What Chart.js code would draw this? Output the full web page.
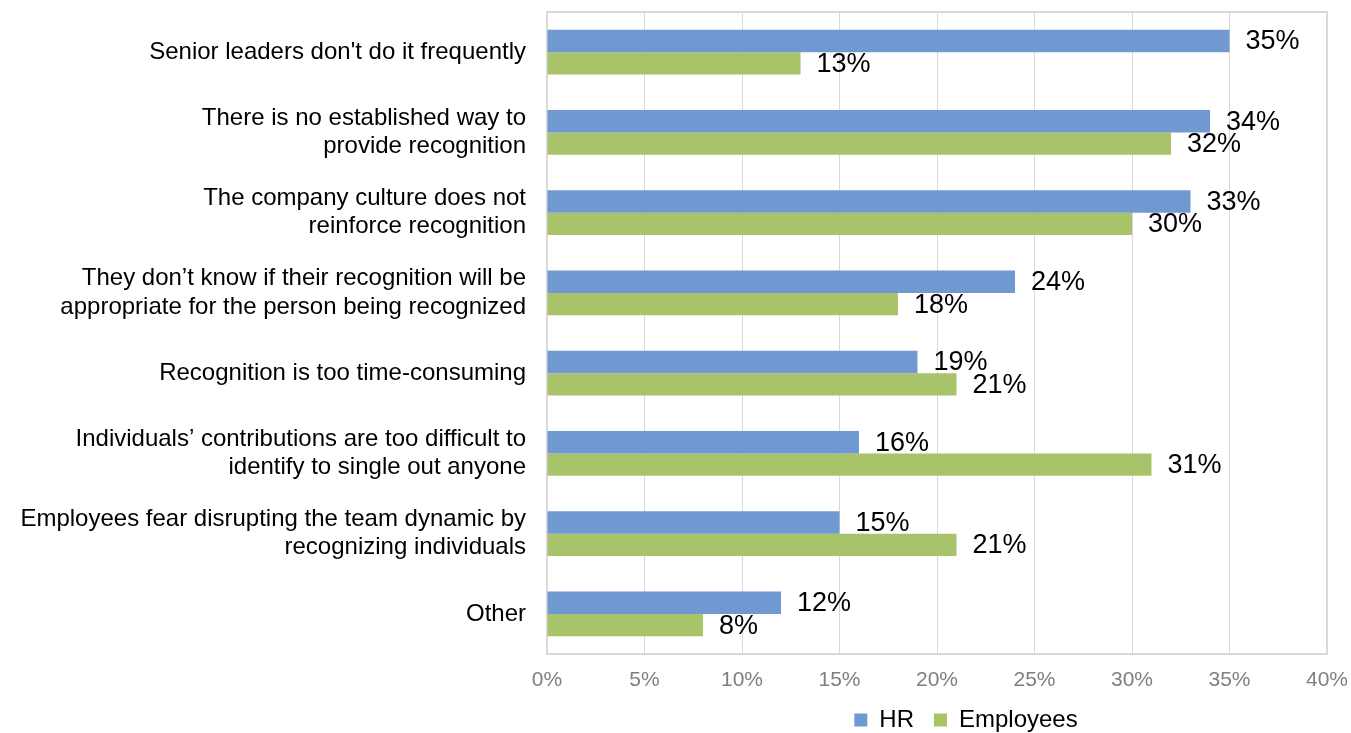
<!DOCTYPE html>
<html>
<head>
  <title>Recognition barriers</title>
  <script src="https://cdn.jsdelivr.net/npm/chart.js"></script>
  <style>
    body {
      margin: 0;
      background: #ffffff;
    }
    .wrap {
      width: 1351px;
      height: 733px;
    }
  </style>
</head>
<body>
  <div class="wrap">
    <canvas id="chart" width="1351" height="733"></canvas>
  </div>
  <script>
const categories = [
  "Senior leaders don't do it frequently",
  ['There is no established way to', 'provide recognition'],
  ['The company culture does not', 'reinforce recognition'],
  ['They don\u2019t know if their recognition will be', 'appropriate for the person being recognized'],
  'Recognition is too time-consuming',
  ['Individuals\u2019 contributions are too difficult to', 'identify to single out anyone'],
  ['Employees fear disrupting the team dynamic by', 'recognizing individuals'],
  'Other'
];
const hrValues = [35, 34, 33, 24, 19, 16, 15, 12];
const employeeValues = [13, 32, 30, 18, 21, 31, 21, 8];
const xTicks = [0, 5, 10, 15, 20, 25, 30, 35, 40];

const FONT = "'Liberation Sans', Arial, sans-serif";

// value labels to the right of each bar, box around the plot area,
// and nudge the legend into place
const barLabels = {
  id: 'barLabels',
  afterLayout(chart) {
    const lg = chart.legend;
    if (lg) {
      lg.left += 29;
      lg.right += 29;
      lg.top -= 6;
      lg.bottom -= 6;
    }
  },
  beforeDatasetsDraw(chart) {
    const a = chart.chartArea;
    const ctx = chart.ctx;
    ctx.save();
    ctx.strokeStyle = '#d9d9d9';
    ctx.lineWidth = 2;
    ctx.strokeRect(a.left, a.top, a.right - a.left, a.bottom - a.top);
    ctx.restore();
  },
  afterDatasetsDraw(chart) {
    const ctx = chart.ctx;
    ctx.save();
    ctx.font = '27px ' + FONT;
    ctx.fillStyle = '#000000';
    ctx.textAlign = 'left';
    ctx.textBaseline = 'middle';
    chart.data.datasets.forEach((ds, i) => {
      chart.getDatasetMeta(i).data.forEach((bar, j) => {
        ctx.fillText(ds.data[j] + '%', bar.x + 16, bar.y + 1);
      });
    });
    ctx.restore();
  }
};

new Chart(document.getElementById('chart'), {
  type: 'bar',
  data: {
    labels: categories,
    datasets: [
      {
        label: 'HR',
        data: hrValues,
        backgroundColor: '#7099d1',
        categoryPercentage: 0.56,
        barPercentage: 1
      },
      {
        label: 'Employees',
        data: employeeValues,
        backgroundColor: '#a9c36b',
        categoryPercentage: 0.56,
        barPercentage: 1
      }
    ]
  },
  options: {
    indexAxis: 'y',
    responsive: false,
    animation: false,
    layout: {
      padding: { left: 10, right: 24, top: 12, bottom: -15 }
    },
    scales: {
      x: {
        min: 0,
        max: 40,
        afterBuildTicks(scale) {
          scale.ticks = xTicks.map(v => ({ value: v }));
        },
        afterFit(scale) {
          scale.height = 40;
          scale.paddingLeft = 0;
          scale.paddingRight = 0;
        },
        grid: { color: '#d9d9d9', lineWidth: 1, drawTicks: false },
        border: { display: false },
        ticks: {
          padding: 14,
          color: '#7f7f7f',
          font: { family: FONT, size: 21 },
          callback: v => v + '%'
        }
      },
      y: {
        afterFit(scale) {
          scale.width = 537;
          scale.paddingTop = 0;
          scale.paddingBottom = 0;
        },
        grid: { display: false, drawTicks: false },
        border: { display: false },
        ticks: {
          padding: 21,
          color: '#000000',
          font: { family: FONT, size: 24, lineHeight: 1.17 }
        }
      }
    },
    plugins: {
      legend: {
        position: 'bottom',
        fullSize: false,
        labels: {
          color: '#000000',
          boxWidth: 13,
          boxHeight: 13,
          padding: 20,
          font: { family: FONT, size: 24, lineHeight: 1 }
        }
      },
      tooltip: { enabled: false }
    }
  },
  plugins: [barLabels]
});
  </script>
</body>
</html>
